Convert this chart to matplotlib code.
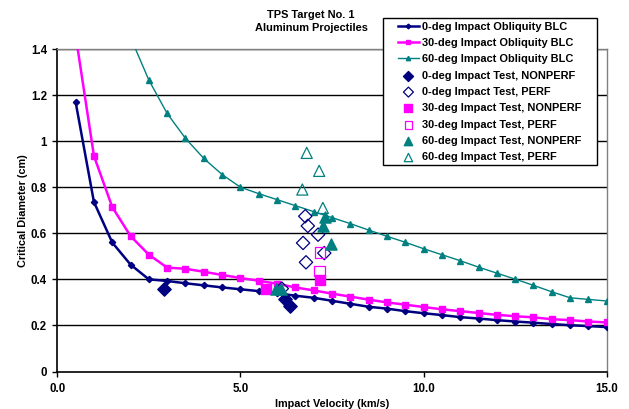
import matplotlib
matplotlib.use("Agg")
import matplotlib.pyplot as plt
from matplotlib.patches import Rectangle

plt.rcParams['font.family'] = ['Liberation Sans', 'DejaVu Sans']
plt.rcParams['font.weight'] = 'bold'

velocity = [0.5, 1.0, 1.5, 2.0, 2.5, 3.0, 3.5, 4.0, 4.5, 5.0,
            5.5, 6.0, 6.5, 7.0, 7.5, 8.0, 8.5, 9.0, 9.5, 10.0,
            10.5, 11.0, 11.5, 12.0, 12.5, 13.0, 13.5, 14.0, 14.5, 15.0]
blc_0 = [1.17, 0.736, 0.56, 0.464, 0.40, 0.393, 0.383, 0.374, 0.365, 0.357,
         0.349, 0.340, 0.329, 0.320, 0.307, 0.294, 0.281, 0.273, 0.262, 0.253,
         0.245, 0.236, 0.230, 0.223, 0.217, 0.212, 0.206, 0.201, 0.197, 0.193]
blc_30 = [1.46, 0.936, 0.714, 0.588, 0.507, 0.451, 0.446, 0.433, 0.419, 0.406,
          0.394, 0.381, 0.365, 0.352, 0.338, 0.325, 0.312, 0.300, 0.290, 0.280,
          0.270, 0.262, 0.254, 0.246, 0.240, 0.235, 0.227, 0.223, 0.217, 0.213]
velocity_60 = [2.0, 2.5, 3.0, 3.5, 4.0, 4.5, 5.0,
               5.5, 6.0, 6.5, 7.0, 7.5, 8.0, 8.5, 9.0, 9.5, 10.0,
               10.5, 11.0, 11.5, 12.0, 12.5, 13.0, 13.5, 14.0, 14.5, 15.0]
blc_60 = [1.45, 1.265, 1.12, 1.012, 0.925, 0.855, 0.800,
          0.772, 0.746, 0.720, 0.694, 0.668, 0.642, 0.614, 0.587, 0.561, 0.533,
          0.507, 0.481, 0.453, 0.427, 0.401, 0.374, 0.346, 0.320, 0.313, 0.306]

t0_np_v = [2.90, 6.22, 6.34]
t0_np_d = [0.357, 0.316, 0.283]
t0_p_v = [6.77, 6.84, 7.12, 6.71, 7.29, 6.79, 6.13]
t0_p_d = [0.674, 0.632, 0.594, 0.558, 0.514, 0.474, 0.360]
t30_np_v = [5.69, 7.18]
t30_np_d = [0.360, 0.399]
t30_p_v = [7.18, 7.16]
t30_p_d = [0.516, 0.436]
t60_np_v = [7.32, 7.26, 7.46, 5.97, 6.10]
t60_np_d = [0.671, 0.632, 0.552, 0.360, 0.360]
t60_p_v = [6.81, 7.15, 6.69, 7.25]
t60_p_d = [0.949, 0.871, 0.790, 0.710]

NAVY = '#000080'
MAG = '#FF00FF'
TEAL = '#008080'

W, H = 629, 409
fig = plt.figure(figsize=(6.29, 4.09), dpi=100)
ax = fig.add_axes([57.3 / W, 1 - 371.5 / H, (606.7 - 57.3) / W, (371.5 - 49) / H])

for y in [0.2, 0.4, 0.6, 0.8, 1.0, 1.2, 1.4]:
    ax.axhline(y, color='black', lw=1.0, zorder=1)

h1, = ax.plot(velocity, blc_0, color=NAVY, lw=1.8, marker='D', ms=3.2,
              label='0-deg Impact Obliquity BLC', zorder=3)
h2, = ax.plot(velocity, blc_30, color=MAG, lw=1.8, marker='s', ms=4.2,
              label='30-deg Impact Obliquity BLC', zorder=3)
h3, = ax.plot(velocity_60, blc_60, color=TEAL, lw=1.0, marker='^', ms=4.2,
              label='60-deg Impact Obliquity BLC', zorder=3)

s_d, s_s, s_t = 46, 56, 64
h4 = ax.scatter(t0_np_v, t0_np_d, marker='D', s=s_d, color=NAVY,
                label='0-deg Impact Test, NONPERF', zorder=5)
h5 = ax.scatter(t0_p_v, t0_p_d, marker='D', s=s_d, facecolors='none',
                edgecolors=NAVY, linewidths=0.9, label='0-deg Impact Test, PERF', zorder=4)
h6 = ax.scatter(t30_np_v, t30_np_d, marker='s', s=s_s, color=MAG,
                label='30-deg Impact Test, NONPERF', zorder=5)
h7 = ax.scatter(t30_p_v, t30_p_d, marker='s', s=s_s, facecolors='none',
                edgecolors=MAG, linewidths=0.9, label='30-deg Impact Test, PERF', zorder=4)
h8 = ax.scatter(t60_np_v, t60_np_d, marker='^', s=s_t, color=TEAL,
                label='60-deg Impact Test, NONPERF', zorder=5)
h9 = ax.scatter(t60_p_v, t60_p_d, marker='^', s=s_t, facecolors='none',
                edgecolors=TEAL, linewidths=0.9, label='60-deg Impact Test, PERF', zorder=4)

ax.set_xlim(0, 15)
ax.set_ylim(0, 1.4)
ax.set_xticks([0, 5, 10, 15])
ax.set_xticklabels(['0.0', '5.0', '10.0', '15.0'])
ax.set_yticks([0, 0.2, 0.4, 0.6, 0.8, 1.0, 1.2, 1.4])
ax.set_yticklabels(['0', '0.2', '0.4', '0.6', '0.8', '1', '1.2', '1.4'])
ax.tick_params(axis='both', direction='out', length=3.5, width=1.0, labelsize=8.3, pad=4)
ax.tick_params(axis='x', pad=5)

for side in ['left', 'bottom']:
    ax.spines[side].set_color('black')
    ax.spines[side].set_linewidth(1.2)
for side in ['top', 'right']:
    ax.spines[side].set_color('#808080')
    ax.spines[side].set_linewidth(1.0)

ax.set_xlabel('Impact Velocity (km/s)', fontsize=7.8, fontweight='bold', labelpad=2.5)
ax.set_ylabel('Critical Diameter (cm)', fontsize=7.8, fontweight='bold', labelpad=2)

fig.text(311 / W, 1 - 15 / H, 'TPS Target No. 1', ha='center', va='center',
         fontsize=7.95, fontweight='bold')
fig.text(311 / W, 1 - 27.7 / H, 'Aluminum Projectiles', ha='center', va='center',
         fontsize=7.95, fontweight='bold')

# legend frame drawn separately to match the reference box
frame = Rectangle((383 / W, 1 - 165 / H), (597 - 383) / W, (165 - 18.3) / H,
                  transform=fig.transFigure, facecolor='white', edgecolor='black',
                  linewidth=1.0, zorder=9)
fig.add_artist(frame)

handles = [h1, h2, h3, h4, h5, h6, h7, h8, h9]
leg = fig.legend(handles=handles, loc='upper left', bbox_to_anchor=(398 / W, 1 - 21.5 / H),
                 bbox_transform=fig.transFigure, fontsize=7.9, frameon=False,
                 labelspacing=0.58, handlelength=1.9, handletextpad=0.3,
                 borderpad=0.0, borderaxespad=0.0, markerscale=0.75)
leg.set_zorder(10)

fig.savefig('out.png', dpi=100)
